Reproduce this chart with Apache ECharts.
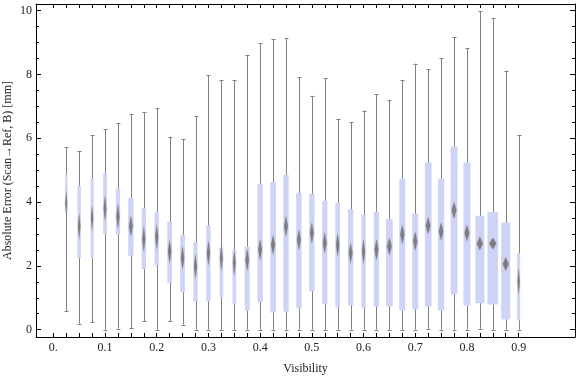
<!DOCTYPE html>
<html>
<head>
  <meta charset="utf-8" />
  <script src="https://cdn.jsdelivr.net/npm/echarts@6/dist/echarts.min.js"></script>
  <style>
    html,
    body {
      margin: 0;
      padding: 0;
      background: #fff;
    }

    #main {
      width: 576px;
      height: 377px;
    }
  </style>
</head>
<body>
<div id="main"></div>
<script>
  // visibility bins (box centres)
  const visibility = [
    0.025, 0.05, 0.075, 0.1, 0.125, 0.15, 0.175, 0.2, 0.225, 0.25, 0.275, 0.3,
    0.325, 0.35, 0.375, 0.4, 0.425, 0.45, 0.475, 0.5, 0.525, 0.55, 0.575, 0.6,
    0.625, 0.65, 0.675, 0.7, 0.725, 0.75, 0.775, 0.8, 0.825, 0.85, 0.875, 0.9,
  ];
  const whiskerHigh = [
    5.73, 5.59, 6.09, 6.29, 6.47, 6.75, 6.81, 6.95, 6.05, 5.98, 6.69, 7.97,
    7.83, 7.83, 8.61, 8.98, 9.11, 9.14, 7.92, 7.33, 7.89, 6.61, 6.51, 6.87,
    7.39, 7.21, 7.83, 8.34, 8.17, 8.52, 9.17, 8.83, 9.99, 9.78, 8.12, 6.1,
  ];
  const q3 = [
    4.86, 4.51, 4.75, 4.91, 4.43, 4.13, 3.81, 3.69, 3.38, 2.97, 2.75, 3.26,
    2.57, 2.51, 2.6, 4.58, 4.63, 4.86, 4.29, 4.26, 4.04, 3.98, 3.78, 3.61,
    3.7, 3.47, 4.73, 3.64, 5.24, 4.73, 5.74, 5.24, 3.57, 3.68, 3.36, 2.4,
  ];
  const median = [
    3.97, 3.24, 3.5, 3.81, 3.55, 3.24, 2.84, 2.91, 2.45, 2.25, 1.98, 2.4,
    2.25, 2.09, 2.19, 2.51, 2.66, 3.24, 2.82, 3.03, 2.72, 2.66, 2.4, 2.45,
    2.51, 2.61, 2.98, 2.77, 3.26, 3.08, 3.74, 3.03, 2.7, 2.7, 2.06, 1.51,
  ];
  const q1 = [
    3.66, 2.25, 2.25, 3.01, 2.98, 2.32, 1.9, 2.02, 1.46, 1.17, 0.89, 0.89,
    1.01, 0.8, 0.6, 0.86, 0.54, 0.57, 0.67, 1.2, 0.8, 0.7, 0.76, 0.67,
    0.73, 0.73, 0.6, 0.64, 0.73, 0.6, 1.11, 0.76, 0.83, 0.79, 0.32, 0.29,
  ];
  const whiskerLow = [
    0.57, 0.19, 0.23, 0, 0.03, 0.05, 0.26, 0, 0.26, 0.16, 0, 0,
    0, 0, 0, 0, 0, 0, 0, 0, 0, 0, 0, 0,
    0, 0, 0, 0, 0.03, 0, 0, 0, 0.03, 0, 0, 0,
  ];
  // box width per bin, in visibility units
  const boxWidth = [
    0.0045, 0.0064, 0.0058, 0.0072, 0.0083, 0.0103, 0.0083, 0.0083, 0.0091,
    0.0091, 0.0083, 0.0083, 0.0072, 0.0072, 0.0097, 0.0103, 0.011, 0.0103,
    0.0103, 0.0103, 0.0103, 0.0091, 0.0103, 0.0083, 0.0103, 0.013, 0.0116,
    0.0116, 0.013, 0.0122, 0.0135, 0.0135, 0.0174, 0.0207, 0.0174, 0.0058,
  ];

  // tick marks / labels
  const xTicks = [
    0, 0.025, 0.05, 0.075, 0.1, 0.125, 0.15, 0.175, 0.2, 0.225, 0.25, 0.275,
    0.3, 0.325, 0.35, 0.375, 0.4, 0.425, 0.45, 0.475, 0.5, 0.525, 0.55, 0.575,
    0.6, 0.625, 0.65, 0.675, 0.7, 0.725, 0.75, 0.775, 0.8, 0.825, 0.85, 0.875,
    0.9,
  ];
  const xLabels = [0, 0.1, 0.2, 0.3, 0.4, 0.5, 0.6, 0.7, 0.8, 0.9];
  const yMajor = [0, 2, 4, 6, 8, 10];
  const yMinor = [
    0, 0.5, 1, 1.5, 2, 2.5, 3, 3.5, 4, 4.5, 5, 5.5, 6, 6.5, 7, 7.5, 8, 8.5, 9,
    9.5, 10,
  ];

  const font = "'Liberation Serif', 'Times New Roman', serif";
  const xMin = -0.0335;
  const xMax = 1.009;
  const yMin = -0.23;
  const yMax = 10.21;

  const boxData = visibility.map((v, i) => [
    v, whiskerLow[i], q1[i], median[i], q3[i], whiskerHigh[i], boxWidth[i],
  ]);

  const renderBox = (params, api) => {
    const x = api.value(0);
    const pLow = api.coord([x, api.value(1)]);
    const pQ1 = api.coord([x, api.value(2)]);
    const pMed = api.coord([x, api.value(3)]);
    const pQ3 = api.coord([x, api.value(4)]);
    const pHigh = api.coord([x, api.value(5)]);
    const w = api.size([api.value(6), 0])[0];
    const cx = Math.round(pLow[0]) + 0.5;
    const line = { stroke: '#808080', lineWidth: 1 };

    // median diamond: narrower than the box, taller on thin boxes
    const dw = Math.min(w * 0.85, 0.6 * w + 0.6);
    const dh = Math.min(26, 80 / dw);

    return {
      type: 'group',
      children: [
        {
          type: 'line',
          shape: { x1: cx, y1: pLow[1], x2: cx, y2: pHigh[1] },
          style: line,
        },
        {
          type: 'line',
          shape: { x1: cx - 2, y1: Math.round(pHigh[1]) + 0.5, x2: cx + 2, y2: Math.round(pHigh[1]) + 0.5 },
          style: line,
        },
        {
          type: 'line',
          shape: { x1: cx - 2, y1: Math.round(pLow[1]) + 0.5, x2: cx + 2, y2: Math.round(pLow[1]) + 0.5 },
          style: line,
        },
        {
          type: 'rect',
          shape: { x: pQ1[0] - w / 2, y: pQ3[1], width: w, height: pQ1[1] - pQ3[1] },
          style: { fill: '#cdd4f5' },
        },
        {
          type: 'polygon',
          shape: {
            points: [
              [pMed[0], pMed[1] - dh / 2],
              [pMed[0] + dw / 2, pMed[1]],
              [pMed[0], pMed[1] + dh / 2],
              [pMed[0] - dw / 2, pMed[1]],
            ],
          },
          style: {
            fill: '#767676',
            opacity: 0.85,
            shadowBlur: 1.5,
            shadowColor: 'rgba(120,120,120,0.6)',
          },
        },
      ],
    };
  };

  const axisLine = {
    show: true,
    onZero: false,
    lineStyle: { color: '#000', width: 1 },
  };

  const xAxisBase = {
    type: 'value',
    min: xMin,
    max: xMax,
    axisLine: axisLine,
    axisTick: {
      show: true,
      inside: true,
      length: 4,
      customValues: xTicks,
      lineStyle: { color: '#000' },
    },
    splitLine: { show: false },
  };

  const yAxisBase = {
    type: 'value',
    min: yMin,
    max: yMax,
    splitLine: { show: false },
  };

  const chart = echarts.init(document.getElementById('main'), null, {
    renderer: 'canvas',
  });

  chart.setOption({
    animation: false,
    grid: {
      left: 36,
      right: 1,
      top: 4,
      bottom: 40,
      outerBoundsMode: 'none',
      containLabel: false,
    },
    xAxis: [
      {
        ...xAxisBase,
        position: 'bottom',
        name: 'Visibility',
        nameLocation: 'middle',
        nameGap: 26,
        nameMoveOverlap: false,
        nameTextStyle: { fontFamily: font, fontSize: 12, color: '#222' },
        axisLabel: {
          show: true,
          customValues: xLabels,
          margin: 5,
          fontFamily: font,
          fontSize: 12,
          color: '#222',
          formatter: (v) => (v === 0 ? '0.' : v.toFixed(1)),
        },
      },
      {
        ...xAxisBase,
        position: 'top',
        axisLabel: { show: false },
      },
    ],
    yAxis: [
      {
        ...yAxisBase,
        position: 'left',
        name: 'Absolute Error (Scan\u2192Ref, B) [mm]',
        nameLocation: 'middle',
        nameGap: 22,
        nameMoveOverlap: false,
        nameTextStyle: { fontFamily: font, fontSize: 12, color: '#222' },
        axisLine: axisLine,
        axisTick: {
          show: true,
          inside: true,
          length: 5,
          customValues: yMajor,
          lineStyle: { color: '#000' },
        },
        axisLabel: {
          show: true,
          customValues: yMajor,
          margin: 4,
          fontFamily: font,
          fontSize: 12,
          color: '#222',
        },
      },
      {
        ...yAxisBase,
        position: 'left',
        axisLine: { show: false, onZero: false },
        axisTick: {
          show: true,
          inside: true,
          length: 3,
          customValues: yMinor,
          lineStyle: { color: '#000' },
        },
        axisLabel: { show: false },
      },
      {
        ...yAxisBase,
        position: 'right',
        axisLine: axisLine,
        axisTick: {
          show: true,
          inside: true,
          length: 5,
          customValues: yMajor,
          lineStyle: { color: '#000' },
        },
        axisLabel: { show: false },
      },
      {
        ...yAxisBase,
        position: 'right',
        axisLine: { show: false, onZero: false },
        axisTick: {
          show: true,
          inside: true,
          length: 3,
          customValues: yMinor,
          lineStyle: { color: '#000' },
        },
        axisLabel: { show: false },
      },
    ],
    series: [
      {
        type: 'custom',
        xAxisIndex: 0,
        yAxisIndex: 0,
        renderItem: renderBox,
        encode: { x: 0, y: [1, 2, 3, 4, 5] },
        data: boxData,
        clip: false,
      },
    ],
  });
</script>
</body>
</html>
